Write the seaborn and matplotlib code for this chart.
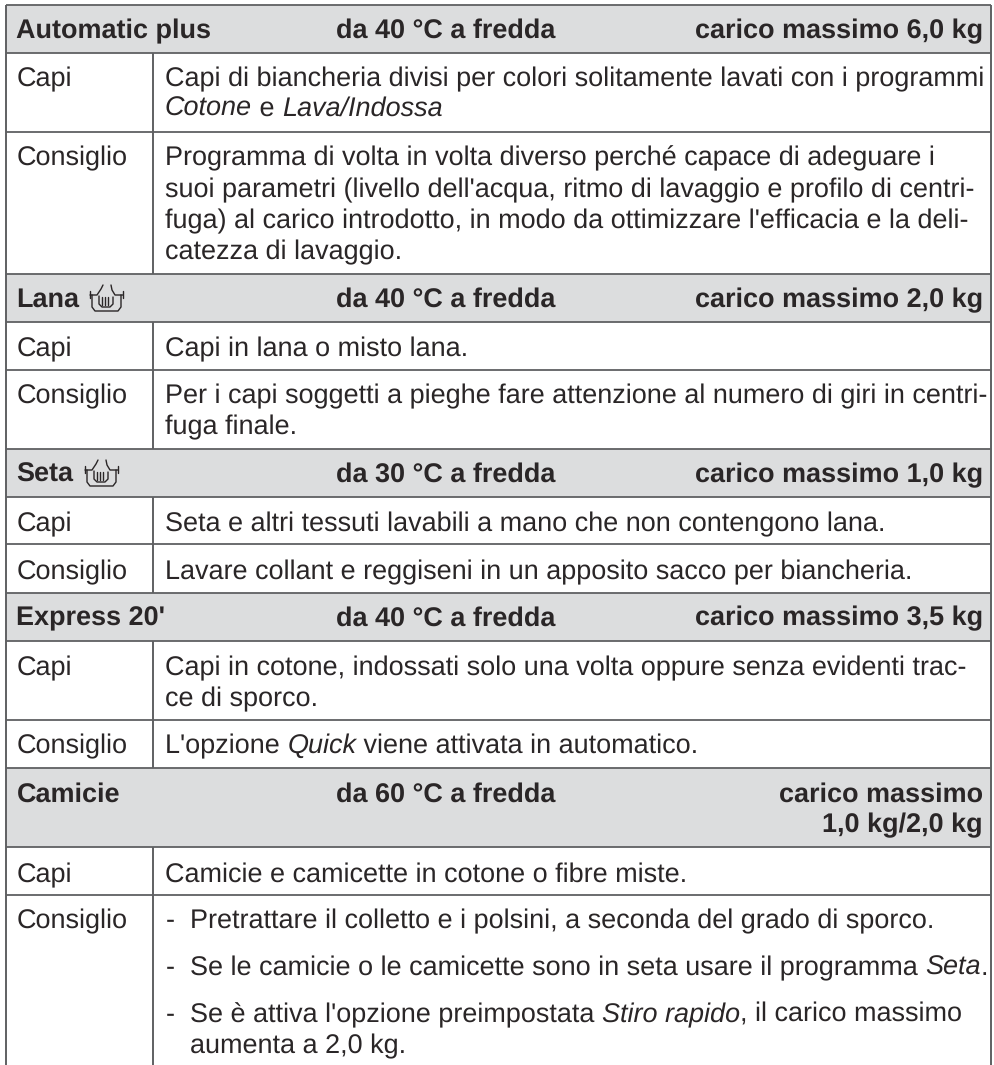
import matplotlib
matplotlib.use("Agg")
import matplotlib.pyplot as plt
import seaborn as sns

sns.set_theme(style="white")
plt.rcParams['font.family'] = ['Liberation Sans', 'DejaVu Sans']
plt.rcParams['text.hinting'] = 'no_hinting'
plt.rcParams['text.hinting_factor'] = 1

INK = "#2a2627"; RULE = "#5f6062"; BAND = "#dcddde"
FS = 19.6
FSB = 19.45

# section: name, temperature, load, header top, header bottom, baseline(s)
sec_names = ["Automatic plus", "Lana", "Seta", "Express 20'", "Camicie"]
sec_temps = ["da 40 °C a fredda", "da 40 °C a fredda", "da 30 °C a fredda", "da 40 °C a fredda", "da 60 °C a fredda"]
sec_loads = [["carico massimo 6,0 kg"], ["carico massimo 2,0 kg"], ["carico massimo 1,0 kg"], ["carico massimo 3,5 kg"],
             ["carico massimo", "1,0 kg/2,0 kg"]]
sec_tops = [5, 274, 449, 593, 768]
sec_bottoms = [52.5, 322, 497, 640.5, 847]
sec_base = [38, 307, 482, 625.5, 802]
row_rules = [132, 370, 544, 720, 895]
end_y = 1065

# left-column labels
labels = ["Capi", "Consiglio", "Capi", "Consiglio", "Capi", "Consiglio", "Capi", "Consiglio", "Capi", "Consiglio"]
label_base = [86, 165, 356, 403, 531, 579, 675, 753, 882, 928]

# right-column lines: baseline, text start, [(text, italic), ...]
body_base = [86, 116, 165, 197, 228, 259, 356, 403, 434, 531, 579, 675, 706, 753, 882, 928, 975, 1022, 1053]
body_x = [165, 165, 165, 165, 165, 165, 165, 165, 165, 165, 165, 165, 165, 165, 165, 190, 190, 190, 190]
body_size = [FS] * 16 + [19.38] + [FS] * 2
body_text = [
    [("Capi di biancheria divisi per colori solitamente lavati con i programmi", 0)],
    [("Cotone", 1), (" e ", 0), ("Lava/Indossa", 1)],
    [("Programma di volta in volta diverso perché capace di adeguare i", 0)],
    [("suoi parametri (livello dell'acqua, ritmo di lavaggio e profilo di centri-", 0)],
    [("fuga) al carico introdotto, in modo da ottimizzare l'efficacia e la deli-", 0)],
    [("catezza di lavaggio.", 0)],
    [("Capi in lana o misto lana.", 0)],
    [("Per i capi soggetti a pieghe fare attenzione al numero di giri in centri-", 0)],
    [("fuga finale.", 0)],
    [("Seta e altri tessuti lavabili a mano che non contengono lana.", 0)],
    [("Lavare collant e reggiseni in un apposito sacco per biancheria.", 0)],
    [("Capi in cotone, indossati solo una volta oppure senza evidenti trac-", 0)],
    [("ce di sporco.", 0)],
    [("L'opzione ", 0), ("Quick", 1), (" viene attivata in automatico.", 0)],
    [("Camicie e camicette in cotone o fibre miste.", 0)],
    [("Pretrattare il colletto e i polsini, a seconda del grado di sporco.", 0)],
    [("Se le camicie o le camicette sono in seta usare il programma ", 0), ("Seta", 1), (".", 0)],
    [("Se è attiva l'opzione preimpostata ", 0), ("Stiro rapido", 1), (", il carico massimo", 0)],
    [("aumenta a 2,0 kg.", 0)],
]
dash_base = [928, 975, 1022]

# hand-wash icon strokes, relative to icon origin (px)
icon_paths = [
    [(2, 6), (2, 13)], [(2, 10), (9, 10), (13, 4), (15, 0)],
    [(4, 10), (4, 22), (7, 26), (30, 26), (33, 22), (33, 10)],
    [(35, 6), (35, 13)], [(35, 10), (27, 10), (24, 5), (23, 0)],
    [(11, 11), (11, 19), (14, 22), (22, 22), (25, 19), (25, 12)],
    [(14, 12), (14, 20)], [(17, 12), (17, 20)], [(20, 12), (20, 20)],
]
icon_origins = [(88, 285), (83, 460)]

fig = plt.figure(figsize=(9.94, 10.65), dpi=100, facecolor="white")
ax = fig.add_axes([0, 0, 1, 1])
ax.set_xlim(0, 994)
ax.set_ylim(1065, 0)
ax.axis("off")
XL, XC, XR = 5.5, 153, 991

for t, b in zip(sec_tops, sec_bottoms):
    ax.fill_between([XL, XR], t, b, color=BAND, lw=0, zorder=0)
    ax.hlines([t, b], XL, XR, color=RULE, lw=1.3)
ax.hlines(row_rules, XL, XR, color=RULE, lw=1.3)
ax.vlines([XL, XR], sec_tops[0], end_y, color=RULE, lw=1.4)
for i, b in enumerate(sec_bottoms):
    end = sec_tops[i + 1] if i + 1 < len(sec_tops) else end_y
    ax.vlines(XC, b, end, color=RULE, lw=1.4)

def put(x, y, s, size=FS, **kw):
    return ax.text(x, y, s, color=INK, fontsize=size, va="baseline", parse_math=False, **kw)

for n, t, l, b in zip(sec_names, sec_temps, sec_loads, sec_base):
    put(16.5, b, n, size=FSB, fontweight="bold")
    put(336, b, t, size=FSB, fontweight="bold")
    for k, s in enumerate(l):
        put(983, b + 30.5 * k, s, size=FSB, fontweight="bold", ha="right")

for s, b in zip(labels, label_base):
    put(16.5, b, s)

for b in dash_base:
    put(165.5, b, "-")

r = fig.canvas.get_renderer()
for parts, b, x0, fs in zip(body_text, body_base, body_x, body_size):
    x = x0
    for s, it in parts:
        tx = put(x, b, s, size=fs, style="italic" if it else "normal")
        x += tx.get_window_extent(r).width

for ox, oy in icon_origins:
    for path in icon_paths:
        ax.plot([ox + p[0] for p in path], [oy + p[1] for p in path], color=INK, lw=1.0)

fig.savefig("out.png", dpi=100, facecolor="white")
